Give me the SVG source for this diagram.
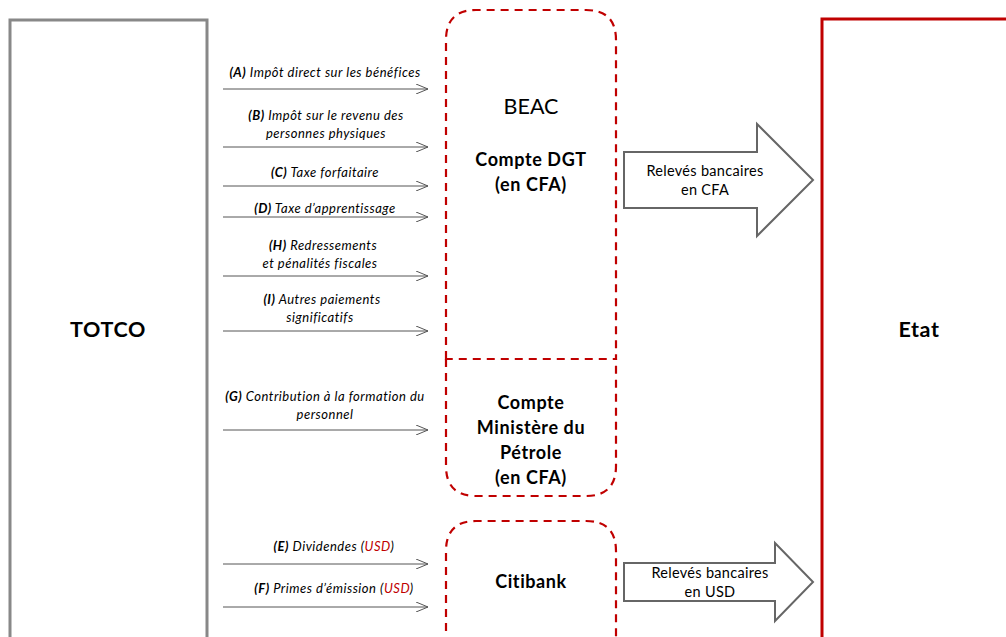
<svg xmlns="http://www.w3.org/2000/svg" width="1006" height="637" viewBox="0 0 1006 637">
<style>
.lbl{font-family:Lato,"Liberation Sans",sans-serif;font-style:italic;font-size:13px;letter-spacing:0.5px;fill:#000;text-anchor:middle}
.lbl .k{font-weight:bold}
.usd{fill:#c00000}
.bank{fill:none;stroke:#c00000;stroke-width:2.2;stroke-dasharray:8,6}
.bold{font-family:Lato,"Liberation Sans",sans-serif;font-weight:bold;font-size:18px;letter-spacing:0.6px;text-anchor:middle;fill:#000}
.flow{stroke:#555;stroke-width:1;fill:none;marker-end:url(#ah)}
.blk{fill:#fff;stroke:#666;stroke-width:2}
.rel{font-family:Lato,"Liberation Sans",sans-serif;font-size:14.5px;letter-spacing:0.3px;text-anchor:middle;fill:#000}
</style>
<defs>
<marker id="ah" viewBox="0 0 12 10" refX="12" refY="5" markerWidth="12" markerHeight="10" markerUnits="userSpaceOnUse" orient="auto">
<path d="M0,0 L12,5 L0,10" fill="none" stroke="#555" stroke-width="1"/>
</marker>
</defs>
<rect width="1006" height="637" fill="#fff"/>
<g id="totco">
<path d="M10,640 V20 H207 V640" fill="#fff" stroke="#888" stroke-width="3"/>
<text x="108" y="337" class="bold" style="font-size:21.5px">TOTCO</text>
</g>
<g id="etat">
<path d="M822,640 V19 H1010" fill="#fff" stroke="#c00000" stroke-width="3"/>
<text x="919" y="337" class="bold" style="font-size:21.5px">Etat</text>
</g>
<g id="beac">
<path class="bank" d="M446,359 V40 Q446,10 476,10 H586 Q616,10 616,40 V359 Z"/>
<text x="531" y="114" style="font-family:Lato,'Liberation Sans',sans-serif;font-size:21.5px;text-anchor:middle">BEAC</text>
<text x="531" y="166" class="bold">Compte DGT</text>
<text x="531" y="191" class="bold">(en CFA)</text>
</g>
<g id="ministere">
<path class="bank" d="M446,359 V466 Q446,496 476,496 H586 Q616,496 616,466 V359"/>
<text x="531" y="409" class="bold">Compte</text>
<text x="531" y="434" class="bold">Ministère du</text>
<text x="531" y="459" class="bold">Pétrole</text>
<text x="531" y="484" class="bold">(en CFA)</text>
</g>
<g id="citibank">
<path class="bank" d="M446,645 V551 Q446,521 476,521 H586 Q616,521 616,551 V645"/>
<text x="531" y="588" class="bold">Citibank</text>
</g>
<g id="releve-cfa">
<path class="blk" d="M624,152 H757 V124 L813,180 L757,236 V208 H624 Z"/>
<text x="705" y="176" class="rel">Relevés bancaires</text>
<text x="705" y="195" class="rel">en CFA</text>
</g>
<g id="releve-usd">
<path class="blk" d="M624,563 H775 V543 L813,582 L775,621 V601 H624 Z"/>
<text x="710" y="578" class="rel">Relevés bancaires</text>
<text x="710" y="597" class="rel">en USD</text>
</g>
<g id="connectors">
<line class="flow" x1="223" y1="89" x2="428" y2="89"/>
<line class="flow" x1="223" y1="147" x2="428" y2="147"/>
<line class="flow" x1="223" y1="186" x2="428" y2="186"/>
<line class="flow" x1="223" y1="217" x2="428" y2="217"/>
<line class="flow" x1="223" y1="276" x2="428" y2="276"/>
<line class="flow" x1="223" y1="331" x2="428" y2="331"/>
<line class="flow" x1="223" y1="430" x2="428" y2="430"/>
<line class="flow" x1="223" y1="564" x2="428" y2="564"/>
<line class="flow" x1="223" y1="607" x2="428" y2="607"/>
</g>
<g id="labels">
<text x="325" y="77" class="lbl"><tspan class="k">(A)</tspan> Impôt direct sur les bénéfices</text>
<text x="326" y="120" class="lbl"><tspan class="k">(B)</tspan> Impôt sur le revenu des</text>
<text x="326" y="138" class="lbl">personnes physiques</text>
<text x="325" y="177" class="lbl"><tspan class="k">(C)</tspan> Taxe forfaitaire</text>
<text x="325" y="213" class="lbl"><tspan class="k">(D)</tspan> Taxe d’apprentissage</text>
<text x="323" y="250" class="lbl"><tspan class="k">(H)</tspan> Redressements</text>
<text x="320" y="268" class="lbl">et pénalités fiscales</text>
<text x="322" y="304" class="lbl"><tspan class="k">(I)</tspan> Autres paiements</text>
<text x="320" y="322" class="lbl">significatifs</text>
<text x="325" y="401" class="lbl"><tspan class="k">(G)</tspan> Contribution à la formation du</text>
<text x="325" y="419" class="lbl">personnel</text>
<text x="334" y="551" class="lbl"><tspan class="k">(E)</tspan> Dividendes (<tspan class="usd">USD</tspan>)</text>
<text x="334" y="593" class="lbl"><tspan class="k">(F)</tspan> Primes d’émission (<tspan class="usd">USD</tspan>)</text>
</g>
</svg>
